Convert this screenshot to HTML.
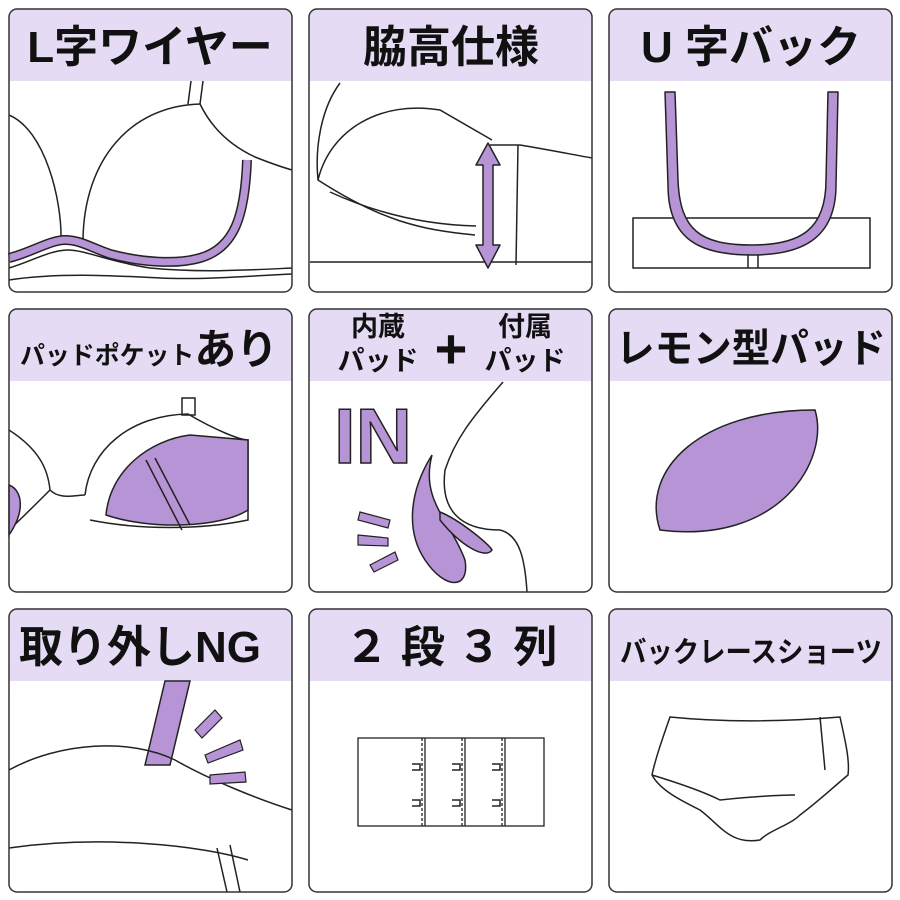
<!DOCTYPE html><html><head><meta charset="utf-8"><style>body{margin:0;background:#fff}svg{display:block}text{font-family:"Liberation Sans","Noto Sans CJK JP",sans-serif}</style></head><body>
<svg width="900" height="900" viewBox="0 0 900 900" xmlns="http://www.w3.org/2000/svg">
<g fill="#e6dbf5">
<path d="M17 9H284a8 8 0 0 1 8 8V81H9V17a8 8 0 0 1 8-8z"/>
<path d="M317 9H584a8 8 0 0 1 8 8V81H309V17a8 8 0 0 1 8-8z"/>
<path d="M617 9H884a8 8 0 0 1 8 8V81H609V17a8 8 0 0 1 8-8z"/>
<path d="M17 309H284a8 8 0 0 1 8 8V381H9V317a8 8 0 0 1 8-8z"/>
<path d="M317 309H584a8 8 0 0 1 8 8V381H309V317a8 8 0 0 1 8-8z"/>
<path d="M617 309H884a8 8 0 0 1 8 8V381H609V317a8 8 0 0 1 8-8z"/>
<path d="M17 609H284a8 8 0 0 1 8 8V681H9V617a8 8 0 0 1 8-8z"/>
<path d="M317 609H584a8 8 0 0 1 8 8V681H309V617a8 8 0 0 1 8-8z"/>
<path d="M617 609H884a8 8 0 0 1 8 8V681H609V617a8 8 0 0 1 8-8z"/>
</g>
<g font-size="44" text-anchor="middle" font-weight="bold" fill="#111">
<text x="150" y="62">L字ワイヤー</text>
<text x="451" y="62">脇高仕様</text>
<text x="751" y="62">U 字バック</text>
<text x="451" y="662">２ 段 ３ 列</text>
<text x="140" y="662">取り外しNG</text>
<text x="751" y="362" font-size="40" textLength="270" lengthAdjust="spacingAndGlyphs">レモン型パッド</text>
<text x="751" y="662" font-size="29" textLength="262" lengthAdjust="spacingAndGlyphs">バックレースショーツ</text>
</g>
<text x="20" y="364" font-size="25" font-weight="bold" fill="#111" textLength="258" lengthAdjust="spacingAndGlyphs">パッドポケット<tspan font-size="42">あり</tspan></text>
<g font-size="27" text-anchor="middle" font-weight="bold" fill="#111"><text x="378" y="336">内蔵</text><text x="378" y="370">パッド</text><text x="525" y="336">付属</text><text x="525" y="370">パッド</text></g>
<text x="451" y="368" font-size="56" text-anchor="middle" font-weight="bold" fill="#111">+</text>
<g fill="none" stroke="#222" stroke-width="1.5">
<!-- panel1 -->
<path d="M191 81L188 104M203 81L200 104"/>
<path d="M9 115C45 130 62 200 61 240M83 240C84 160 130 106 200 104C215 135 240 150 255 157C270 163 285 168 292 170"/>
<path d="M9 268C30 262 50 250 68 250C85 250 110 262 150 268C200 273 250 270 292 268"/>
<path d="M9 280C60 272 120 276 160 278C200 280 250 276 292 274"/>
</g>
<path d="M9 258C30 253 50 240 65 240C80 240 90 247 110 254C140 262 175 265 200 258C235 248 245 215 247 160" fill="none" stroke="#222" stroke-width="10"/>
<path d="M9 258C30 253 50 240 65 240C80 240 90 247 110 254C140 262 175 265 200 258C235 248 245 215 247 160" fill="none" stroke="#b794d6" stroke-width="7"/>
<g fill="none" stroke="#222" stroke-width="1.5">
<!-- panel2 -->
<path d="M340 83C320 110 315 150 318 180C380 220 420 230 475 235M490 145L520 145C550 150 575 155 592 158M518 145L516 265M310 262L592 262"/>
<path d="M318 180C330 130 380 100 440 110L492 140"/>
<path d="M330 192C380 215 430 225 476 226"/>
<!-- panel3 -->
<path d="M633 218H870V268H633zM748 248V268M758 248V268"/>
</g>
<g stroke="#222" stroke-width="1.5" stroke-linejoin="round">
<path d="M488 143L500 165H493V245L500 245L488 268L476 245H483V165L476 165z" fill="#b794d6"/>
<path d="M665 92L675 92L678 180C680 230 700 245 752 245C800 245 826 230 826 180L828 92L838 92L836 185C836 240 800 255 752 255C700 255 668 240 668 185z" fill="#b794d6"/>
</g>
<!-- panel4 -->
<g fill="none" stroke="#222" stroke-width="1.5">
<rect x="182" y="398" width="13" height="17"/>
<path d="M9 430C40 450 48 470 50 490M50 490C60 500 75 495 85 495M85 495C90 450 130 415 188 414C215 430 240 440 248 440V520C200 530 140 530 90 520M9 530C20 520 40 500 50 490"/>
</g>
<path d="M106 515C110 470 150 440 190 435L248 440V510C220 528 150 530 106 515z" fill="#b794d6" stroke="#222" stroke-width="1.5"/>
<path d="M9 485C22 490 26 510 9 535z" fill="#b794d6" stroke="#222" stroke-width="1.5"/>
<path d="M146 460L182 530M155 458L190 525" stroke="#222" stroke-width="1.5" fill="none"/>
<!-- panel5 -->
<text x="334" y="463" font-size="78" font-weight="bold" style="fill:#b794d6;stroke:#222;stroke-width:1.5">IN</text>
<path d="M503 382C470 420 455 440 445 470C440 510 460 530 500 530C520 535 525 560 527 592" fill="none" stroke="#222" stroke-width="1.5"/>
<path d="M432 455C410 490 405 530 425 560C445 590 470 590 465 560C450 520 420 500 432 455z" fill="#b794d6" stroke="#222" stroke-width="1.5"/>
<path d="M440 512C460 520 490 545 492 550C485 560 460 545 440 520z" fill="#b794d6" stroke="#222" stroke-width="1.5"/>
<g fill="#b794d6" stroke="#222" stroke-width="1.2"><path d="M360 512L390 520L388 528L358 520z"/><path d="M358 535L388 538L388 546L358 545z"/><path d="M370 565L395 552L398 560L374 572z"/></g>
<!-- panel6 lemon -->
<path d="M660 530C640 470 700 410 815 410C830 460 780 545 660 530z" fill="#b794d6" stroke="#222" stroke-width="1.5"/>
<!-- panel7 -->
<path d="M165 681L145 765L170 765L190 681z" fill="#b794d6" stroke="#222" stroke-width="1.5"/>
<path d="M9 770C60 742 130 738 175 760C210 780 260 800 292 810M9 848C100 835 200 845 248 860M217 848L227 892M230 845L240 892" fill="none" stroke="#222" stroke-width="1.5"/>
<g fill="#b794d6" stroke="#222" stroke-width="1.2"><path d="M195 730L215 710L222 718L202 738z"/><path d="M205 755L240 740L243 750L208 763z"/><path d="M210 775L245 772L246 782L210 784z"/></g>
<!-- panel8 hooks -->
<g fill="none" stroke="#222" stroke-width="1.3"><rect x="358" y="738" width="186" height="88"/><path d="M422 738V826M462 738V826M502 738V826" stroke-dasharray="3 2"/><path d="M425 738V826M465 738V826M505 738V826"/></g>
<g fill="none" stroke="#222" stroke-width="1.5"><path d="M412 764h8v6h-8M412 800h8v6h-8M452 764h8v6h-8M452 800h8v6h-8M492 764h8v6h-8M492 800h8v6h-8"/></g>
<!-- panel9 shorts -->
<path d="M670 717C720 722 780 722 840 717C845 740 850 760 848 775C830 790 820 800 800 815C790 825 770 830 760 840C730 845 720 825 700 810C680 800 660 790 652 775C655 760 662 740 670 717z" fill="none" stroke="#222" stroke-width="1.5"/>
<path d="M652 775C675 782 700 790 720 800C740 798 770 795 795 795M820 717L825 770" fill="none" stroke="#222" stroke-width="1.5"/>
<g fill="none" stroke="#333" stroke-width="1.5"><rect x="9" y="9" width="283" height="283" rx="8"/><rect x="309" y="9" width="283" height="283" rx="8"/><rect x="609" y="9" width="283" height="283" rx="8"/><rect x="9" y="309" width="283" height="283" rx="8"/><rect x="309" y="309" width="283" height="283" rx="8"/><rect x="609" y="309" width="283" height="283" rx="8"/><rect x="9" y="609" width="283" height="283" rx="8"/><rect x="309" y="609" width="283" height="283" rx="8"/><rect x="609" y="609" width="283" height="283" rx="8"/></g>
</svg></body></html>
